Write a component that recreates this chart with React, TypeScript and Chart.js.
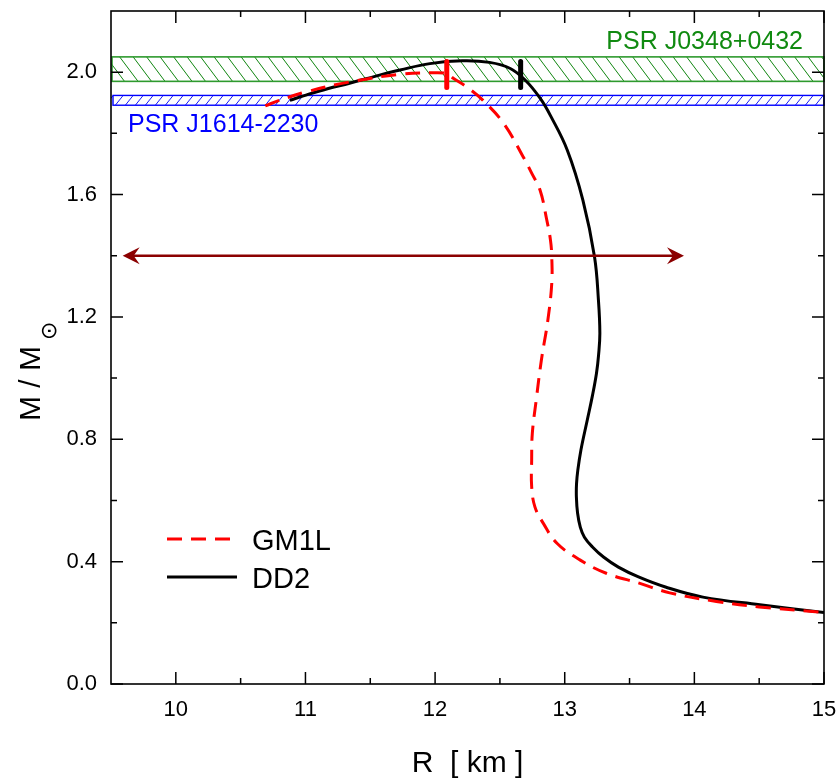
import React, { useEffect, useRef } from 'react';
import { Chart, registerables } from 'chart.js';
Chart.register(...registerables);

// ---- axis setup ----
const xRange = [9.5, 15];
const yRange = [0, 2.2];
const xTicks = [10, 11, 12, 13, 14, 15];
const xMinorTicks = [10.5, 11.5, 12.5, 13.5, 14.5];
const yTicks = [0, 0.4, 0.8, 1.2, 1.6, 2.0];
const yMinorTicks = [0.2, 0.6, 1.0, 1.4, 1.8];
const xTitle = 'R  [ km ]';
const yTitleMain = 'M / M';
const yTitleSub = '⊙';

// ---- data ----
const gm1lR = [10.69, 10.80, 11.0, 11.34, 11.73, 11.98, 12.09, 12.14, 12.25, 12.37, 12.53, 12.68, 12.745, 12.81, 12.86, 12.89, 12.90, 12.90, 12.87, 12.82, 12.78, 12.75, 12.745, 12.745, 12.77, 12.835, 12.94, 13.12, 13.32, 13.58, 13.81, 14.17, 14.5, 15.0];
const gm1lM = [1.89, 1.908, 1.935, 1.968, 1.993, 1.998, 1.995, 1.98, 1.95, 1.908, 1.832, 1.723, 1.67, 1.614, 1.52, 1.451, 1.396, 1.31, 1.19, 1.059, 0.928, 0.819, 0.732, 0.645, 0.579, 0.525, 0.46, 0.405, 0.362, 0.329, 0.298, 0.270, 0.252, 0.234];

const dd2R = [10.88, 11.01, 11.17, 11.34, 11.55, 11.73, 11.96, 12.21, 12.42, 12.58, 12.70, 12.81, 12.89, 13.02, 13.14, 13.23, 13.26, 13.271, 13.261, 13.245, 13.213, 13.174, 13.125, 13.101, 13.091, 13.090, 13.099, 13.120, 13.152, 13.214, 13.299, 13.414, 13.569, 13.777, 14.066, 14.505, 15.0];
const dd2M = [1.908, 1.926, 1.946, 1.964, 1.988, 2.007, 2.028, 2.037, 2.032, 2.012, 1.972, 1.915, 1.858, 1.745, 1.582, 1.396, 1.255, 1.147, 1.075, 1.016, 0.941, 0.863, 0.765, 0.699, 0.654, 0.611, 0.559, 0.513, 0.480, 0.448, 0.415, 0.382, 0.350, 0.317, 0.284, 0.259, 0.234];

// vertical marks on the curves
const gm1lMarkR = [12.09, 12.09];
const dd2MarkR = [12.66, 12.66];
const markM = [1.95, 2.035];

// pulsar mass bands
const bandJ0348 = [1.97, 2.05];
const bandJ1614 = [1.892, 1.924];
const bandJ0348Label = 'PSR J0348+0432';
const bandJ1614Label = 'PSR J1614-2230';

// double arrow
const arrowR = [9.59, 13.92];
const arrowM = 1.4;

const FONT = "'Liberation Sans', Arial, sans-serif";

function hatch(ctx: CanvasRenderingContext2D, x0: number, y0: number, x1: number, y1: number, spacing: number, slope: number, color: string, lw: number) {
  ctx.save();
  ctx.beginPath();
  ctx.rect(x0, y0, x1 - x0, y1 - y0);
  ctx.clip();
  const h = y1 - y0;
  ctx.strokeStyle = color;
  ctx.lineWidth = lw;
  ctx.beginPath();
  const ext = Math.abs(slope) * h + spacing;
  for (let x = x0 - ext; x < x1 + ext; x += spacing) {
    ctx.moveTo(x, y0);
    ctx.lineTo(x + slope * h, y1);
  }
  ctx.stroke();
  ctx.restore();
}

function arrowHead(ctx: CanvasRenderingContext2D, tipX: number, y: number, dir: number) {
  ctx.beginPath();
  ctx.moveTo(tipX, y);
  ctx.lineTo(tipX - dir * 17, y - 8.5);
  ctx.lineTo(tipX - dir * 11, y);
  ctx.lineTo(tipX - dir * 17, y + 8.5);
  ctx.closePath();
  ctx.fill();
}

const zeroPad = (s: any) => { s.paddingTop = 0; s.paddingBottom = 0; s.paddingLeft = 0; s.paddingRight = 0; };

const decorPlugin = {
  id: 'decor',
  beforeDatasetsDraw(chart: any) {
    const { ctx, chartArea, scales } = chart;
    const y = scales.y;
    const L = chartArea.left, R = chartArea.right;
    // green band
    const gTop = y.getPixelForValue(bandJ0348[1]);
    const gBot = y.getPixelForValue(bandJ0348[0]);
    hatch(ctx, L, gTop, R, gBot, 13.5, 0.75, '#0f850f', 1);
    ctx.save();
    ctx.strokeStyle = '#2e9a2e';
    ctx.lineWidth = 1.6;
    ctx.strokeRect(L + 1, gTop, R - L - 1, gBot - gTop);
    ctx.restore();
    // blue band
    const bTop = y.getPixelForValue(bandJ1614[1]);
    const bBot = y.getPixelForValue(bandJ1614[0]);
    hatch(ctx, L, bTop, R, bBot, 10, -0.8, '#1a1aff', 1);
    ctx.save();
    ctx.strokeStyle = '#0000ff';
    ctx.lineWidth = 1.4;
    ctx.strokeRect(L + 2, bTop, R - L - 2, bBot - bTop);
    ctx.restore();
  },
  afterDraw(chart: any) {
    const { ctx, chartArea, scales } = chart;
    const xs = scales.x, ys = scales.y;
    const L = chartArea.left, R = chartArea.right, T = chartArea.top, B = chartArea.bottom;
    ctx.save();
    // arrow
    const ay = ys.getPixelForValue(arrowM);
    const ax0 = xs.getPixelForValue(arrowR[0]);
    const ax1 = xs.getPixelForValue(arrowR[1]);
    ctx.strokeStyle = '#8b0000';
    ctx.fillStyle = '#8b0000';
    ctx.lineWidth = 2.5;
    ctx.beginPath();
    ctx.moveTo(ax0 + 6, ay);
    ctx.lineTo(ax1 - 6, ay);
    ctx.stroke();
    arrowHead(ctx, ax0, ay, -1);
    arrowHead(ctx, ax1, ay, 1);

    // frame
    ctx.strokeStyle = '#000';
    ctx.lineWidth = 1.6;
    ctx.strokeRect(L, T, R - L, B - T);
    // ticks
    ctx.lineWidth = 1.5;
    ctx.beginPath();
    const major = 12, minor = 6;
    xTicks.forEach(v => {
      const p = xs.getPixelForValue(v);
      ctx.moveTo(p, B); ctx.lineTo(p, B - major);
      ctx.moveTo(p, T); ctx.lineTo(p, T + major);
    });
    xMinorTicks.forEach(v => {
      const p = xs.getPixelForValue(v);
      ctx.moveTo(p, B); ctx.lineTo(p, B - minor);
      ctx.moveTo(p, T); ctx.lineTo(p, T + minor);
    });
    yTicks.forEach(v => {
      const p = ys.getPixelForValue(v);
      ctx.moveTo(L, p); ctx.lineTo(L + major, p);
      ctx.moveTo(R, p); ctx.lineTo(R - major, p);
    });
    yMinorTicks.forEach(v => {
      const p = ys.getPixelForValue(v);
      ctx.moveTo(L, p); ctx.lineTo(L + minor, p);
      ctx.moveTo(R, p); ctx.lineTo(R - minor, p);
    });
    ctx.stroke();

    // band labels
    ctx.font = `25px ${FONT}`;
    ctx.textBaseline = 'alphabetic';
    ctx.fillStyle = '#108a10';
    ctx.textAlign = 'right';
    ctx.fillText(bandJ0348Label, R - 21, ys.getPixelForValue(bandJ0348[1]) - 8);
    ctx.fillStyle = '#0000ff';
    ctx.textAlign = 'left';
    ctx.fillText(bandJ1614Label, L + 17, ys.getPixelForValue(bandJ1614[0]) + 27);

    // legend
    const ds = chart.data.datasets;
    const legendItems = ds.filter((d: any) => d.label);
    const lx0 = L + 56, lx1 = L + 126, tx = L + 141;
    const rows = [539, 577];
    legendItems.forEach((d: any, i: number) => {
      const yy = rows[i];
      ctx.save();
      ctx.strokeStyle = d.borderColor;
      ctx.lineWidth = d.borderWidth;
      ctx.setLineDash(d.borderDash || []);
      ctx.beginPath();
      ctx.moveTo(lx0, yy);
      ctx.lineTo(lx1, yy);
      ctx.stroke();
      ctx.restore();
      ctx.fillStyle = '#000';
      ctx.font = `29px ${FONT}`;
      ctx.textAlign = 'left';
      ctx.textBaseline = 'alphabetic';
      ctx.fillText(d.label, tx, yy + 11);
    });

    // x title
    ctx.fillStyle = '#000';
    ctx.font = `30px ${FONT}`;
    ctx.textAlign = 'center';
    ctx.textBaseline = 'alphabetic';
    ctx.fillText(xTitle, (L + R) / 2, 772);

    // y title (rotated)
    ctx.save();
    ctx.translate(40, 421);
    ctx.rotate(-Math.PI / 2);
    ctx.textAlign = 'left';
    ctx.font = `30px ${FONT}`;
    ctx.fillText(yTitleMain, 0, 0);
    const w = ctx.measureText(yTitleMain).width;
    ctx.font = `22px 'DejaVu Sans', sans-serif`;
    ctx.fillText(yTitleSub, w + 6, 16);
    ctx.restore();

    ctx.restore();
  },
};

export default function App() {
  const ref = useRef<HTMLCanvasElement | null>(null);
  useEffect(() => {
    if (!ref.current) return;
    const toPts = (xs: number[], ys: number[]) => xs.map((x, i) => ({ x, y: ys[i] }));
    const chart = new Chart(ref.current, {
      type: 'scatter',
      data: {
        datasets: [
          { data: toPts(gm1lMarkR, markM), showLine: true, borderColor: '#ff0000', borderWidth: 5, borderCapStyle: 'round', pointRadius: 0 } as any,
          { data: toPts(dd2MarkR, markM), showLine: true, borderColor: '#000000', borderWidth: 5, borderCapStyle: 'round', pointRadius: 0 } as any,
          { label: 'GM1L', data: toPts(gm1lR, gm1lM), showLine: true, borderColor: '#ff0000', borderWidth: 3, borderDash: [15, 9], pointRadius: 0, tension: 0.4 } as any,
          { label: 'DD2', data: toPts(dd2R, dd2M), showLine: true, borderColor: '#000000', borderWidth: 3, pointRadius: 0, tension: 0.4 } as any,
        ],
      },
      options: {
        animation: false,
        responsive: false,
        devicePixelRatio: 1,
        layout: { padding: { top: 11, right: 15, left: 0, bottom: 0 } },
        plugins: { legend: { display: false }, tooltip: { enabled: false } },
        scales: {
          x: {
            type: 'linear',
            min: xRange[0],
            max: xRange[1],
            afterFit: (s: any) => { s.height = 94; zeroPad(s); },
            afterBuildTicks: (s: any) => { s.ticks = xTicks.map(v => ({ value: v })); },
            grid: { display: false, drawTicks: false },
            border: { display: false },
            ticks: { padding: 13, color: '#000', autoSkip: false, maxRotation: 0, font: { family: FONT, size: 22 }, callback: (v: any) => String(v) },
          },
          y: {
            type: 'linear',
            min: yRange[0],
            max: yRange[1],
            afterFit: (s: any) => { s.width = 111; zeroPad(s); },
            afterBuildTicks: (s: any) => { s.ticks = yTicks.map(v => ({ value: v })); },
            grid: { display: false, drawTicks: false },
            border: { display: false },
            ticks: { padding: 14, color: '#000', autoSkip: false, font: { family: FONT, size: 22 }, callback: (v: any) => Number(v).toFixed(1) },
          },
        },
      },
      plugins: [decorPlugin],
    });
    return () => chart.destroy();
  }, []);
  return (
    <div style={{ position: 'absolute', left: 0, top: 0, width: 839, height: 778, background: '#fff' }}>
      <canvas ref={ref} width={839} height={778} style={{ display: 'block', width: 839, height: 778 }} />
    </div>
  );
}
